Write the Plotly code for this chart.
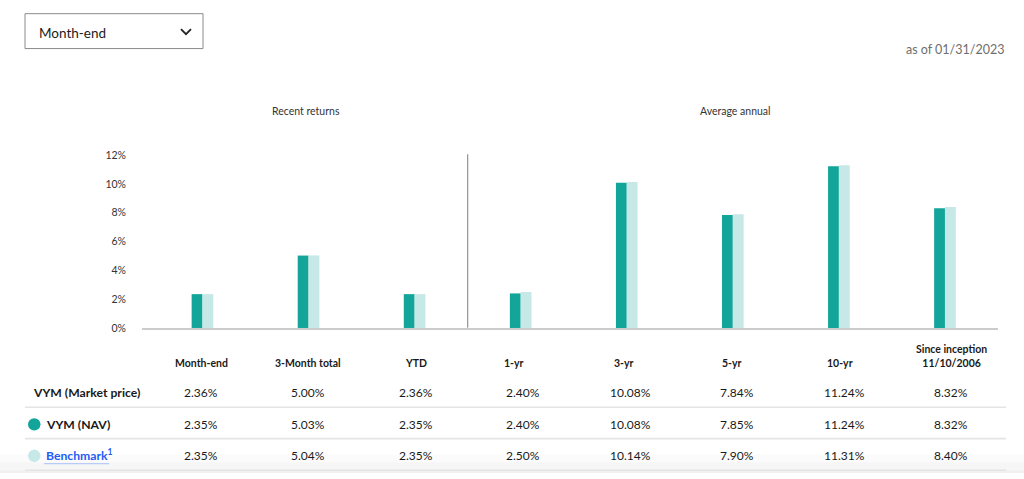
import plotly.graph_objects as go

# ---------------- data ----------------
periods = ["Month-end", "3-Month total", "YTD", "1-yr", "3-yr", "5-yr", "10-yr", "Since inception"]
header_labels = ["Month-end", "3-Month total", "YTD", "1-yr", "3-yr", "5-yr", "10-yr",
                 "Since inception<br>11/10/2006"]
market_price = [2.36, 5.00, 2.36, 2.40, 10.08, 7.84, 11.24, 8.32]
nav = [2.35, 5.03, 2.35, 2.40, 10.08, 7.85, 11.24, 8.32]
benchmark = [2.35, 5.04, 2.35, 2.50, 10.14, 7.90, 11.31, 8.40]
y_ticks = [0, 2, 4, 6, 8, 10, 12]
y_tick_labels = ["0%", "2%", "4%", "6%", "8%", "10%", "12%"]
as_of = "as of 01/31/2023"
selector_label = "Month-end"
section_titles = ["Recent returns", "Average annual"]

# ---------------- style ----------------
W, H = 1024, 479
FONT = "Lato"
DARK = "#13a49a"
LIGHT = "#c6e8e6"
TXT = "#1a1a1a"

# the page photograph squeezes the figure slightly in height; map target pixels accordingly
V_OFF, V_SPAN = 5.3, 468.5


def X(p):
    return p / W


def Y(p):
    return 1 - (p - V_OFF) / V_SPAN


fig = go.Figure()
fig.add_trace(go.Bar(x=periods, y=nav, name="VYM (NAV)", marker=dict(color=DARK, line=dict(width=0)),
                     hoverinfo="skip"))
fig.add_trace(go.Bar(x=periods, y=benchmark, name="Benchmark", marker=dict(color=LIGHT, line=dict(width=0)),
                     hoverinfo="skip"))

shapes = []
annotations = []

# dropdown selector
shapes.append(dict(type="rect", xref="paper", yref="paper", x0=X(25), x1=X(203), y0=Y(13), y1=Y(48),
                   line=dict(color="#8a8a8a", width=1), fillcolor="white", layer="below"))
shapes.append(dict(type="path", xref="paper", yref="paper",
                   path=f"M {X(181)},{Y(28.5)} L {X(186)},{Y(33.5)} L {X(191)},{Y(28.5)}",
                   line=dict(color="#222", width=1.8)))
annotations.append(dict(text=selector_label, x=X(37), y=Y(32), xref="paper", yref="paper",
                        xanchor="left", yanchor="middle", showarrow=False,
                        font=dict(family=FONT, size=13.5, color=TXT)))
annotations.append(dict(text=as_of, x=X(1006), y=Y(49), xref="paper", yref="paper",
                        xanchor="right", yanchor="middle", showarrow=False,
                        font=dict(family=FONT, size=12.5, color="#6e6e6e")))

# section titles
annotations.append(dict(text=section_titles[0], x=X(306), y=Y(111), xref="paper", yref="paper",
                        xanchor="center", yanchor="middle", showarrow=False,
                        font=dict(family=FONT, size=10.5, color="#333")))
annotations.append(dict(text=section_titles[1], x=X(735), y=Y(111), xref="paper", yref="paper",
                        xanchor="center", yanchor="middle", showarrow=False,
                        font=dict(family=FONT, size=10.5, color="#333")))

# divider between sections
shapes.append(dict(type="line", xref="x", yref="paper", x0=2.5, x1=2.5, y0=Y(328), y1=Y(154),
                   line=dict(color="#9a9a9a", width=1.3)))

# ---------------- table ----------------
col_x = [201, 308, 416, 523, 630, 737, 844, 951]
head_x = [201, 308, 416, 514, 624, 732, 840, 951]
row_y = [393.5, 425, 456.5]
rows = [market_price, nav, benchmark]

for hx, lab in zip(head_x, header_labels):
    two = "<br>" in lab
    annotations.append(dict(text="<b>" + lab + "</b>", x=X(hx), y=Y(356 if two else 363.5),
                            xref="paper", yref="paper", xanchor="center", yanchor="middle",
                            showarrow=False, align="center",
                            font=dict(family=FONT, size=10.5, color=TXT)))

for ry, vals in zip(row_y, rows):
    for cx, v in zip(col_x, vals):
        annotations.append(dict(text=f"{v:.2f}%", x=X(cx), y=Y(ry), xref="paper", yref="paper",
                                xanchor="center", yanchor="middle", showarrow=False,
                                font=dict(family=FONT, size=12, color=TXT)))

annotations.append(dict(text="<b>VYM (Market price)</b>", x=X(30.5), y=Y(row_y[0]), xref="paper", yref="paper",
                        xanchor="left", yanchor="middle", showarrow=False,
                        font=dict(family=FONT, size=12.2, color=TXT)))
annotations.append(dict(text="<b>VYM (NAV)</b>", x=X(43.5), y=Y(row_y[1]), xref="paper", yref="paper",
                        xanchor="left", yanchor="middle", showarrow=False,
                        font=dict(family=FONT, size=12.2, color=TXT)))
annotations.append(dict(text="<b>Benchmark<sup>1</sup></b>", x=X(43.5), y=Y(row_y[2] - 1), xref="paper",
                        yref="paper", xanchor="left", yanchor="middle", showarrow=False,
                        font=dict(family=FONT, size=12.2, color="#1f5cf5")))
shapes.append(dict(type="line", xref="paper", yref="paper", x0=X(44), x1=X(109), y0=Y(464.5), y1=Y(464.5),
                   line=dict(color="#aabffa", width=1)))

for ry, col in ((row_y[1], DARK), (row_y[2], LIGHT)):
    shapes.append(dict(type="circle", xref="paper", yref="paper", x0=X(28), x1=X(40.5),
                       y0=Y(ry - 6.2), y1=Y(ry + 6.2), fillcolor=col, line=dict(width=0)))

# bottom page shading
for y0p, a in ((455, 0.016), (463, 0.02), (471, 0.024)):
    shapes.append(dict(type="rect", xref="paper", yref="paper", x0=0, x1=1, y0=0, y1=Y(y0p),
                       fillcolor=f"rgba(0,0,0,{a})", line=dict(width=0), layer="below"))

for ly in (407.8, 439.3, 471):
    shapes.append(dict(type="line", xref="paper", yref="paper", x0=X(25), x1=X(1006), y0=Y(ly), y1=Y(ly),
                       line=dict(color="#e4e4e4", width=1.6)))

fig.update_layout(
    width=W, height=H,
    autosize=False,
    margin=dict(l=0, r=0, t=0, b=0, pad=0),
    paper_bgcolor="white", plot_bgcolor="white",
    barmode="group", bargap=0.796, bargroupgap=0,
    showlegend=False,
    shapes=shapes, annotations=annotations,
    font=dict(family=FONT, color=TXT),
    xaxis=dict(domain=[X(142), X(998)], range=[-0.57, 7.5], showticklabels=False, ticks="",
               showgrid=False, zeroline=False, showline=True, linecolor="#cccccc", linewidth=2,
               fixedrange=True),
    yaxis=dict(domain=[Y(328.3), Y(155)], range=[0, 12], tickvals=y_ticks, ticktext=y_tick_labels,
               ticks="", showgrid=False, zeroline=False, showline=False, ticklabelstandoff=15,
               tickfont=dict(family=FONT, size=10.5, color="#333"), fixedrange=True),
)

fig.write_html(
    "out.html",
    config={"responsive": False, "displayModeBar": False},
    post_script="document.body.style.margin='0';document.body.style.overflow='hidden';",
)
